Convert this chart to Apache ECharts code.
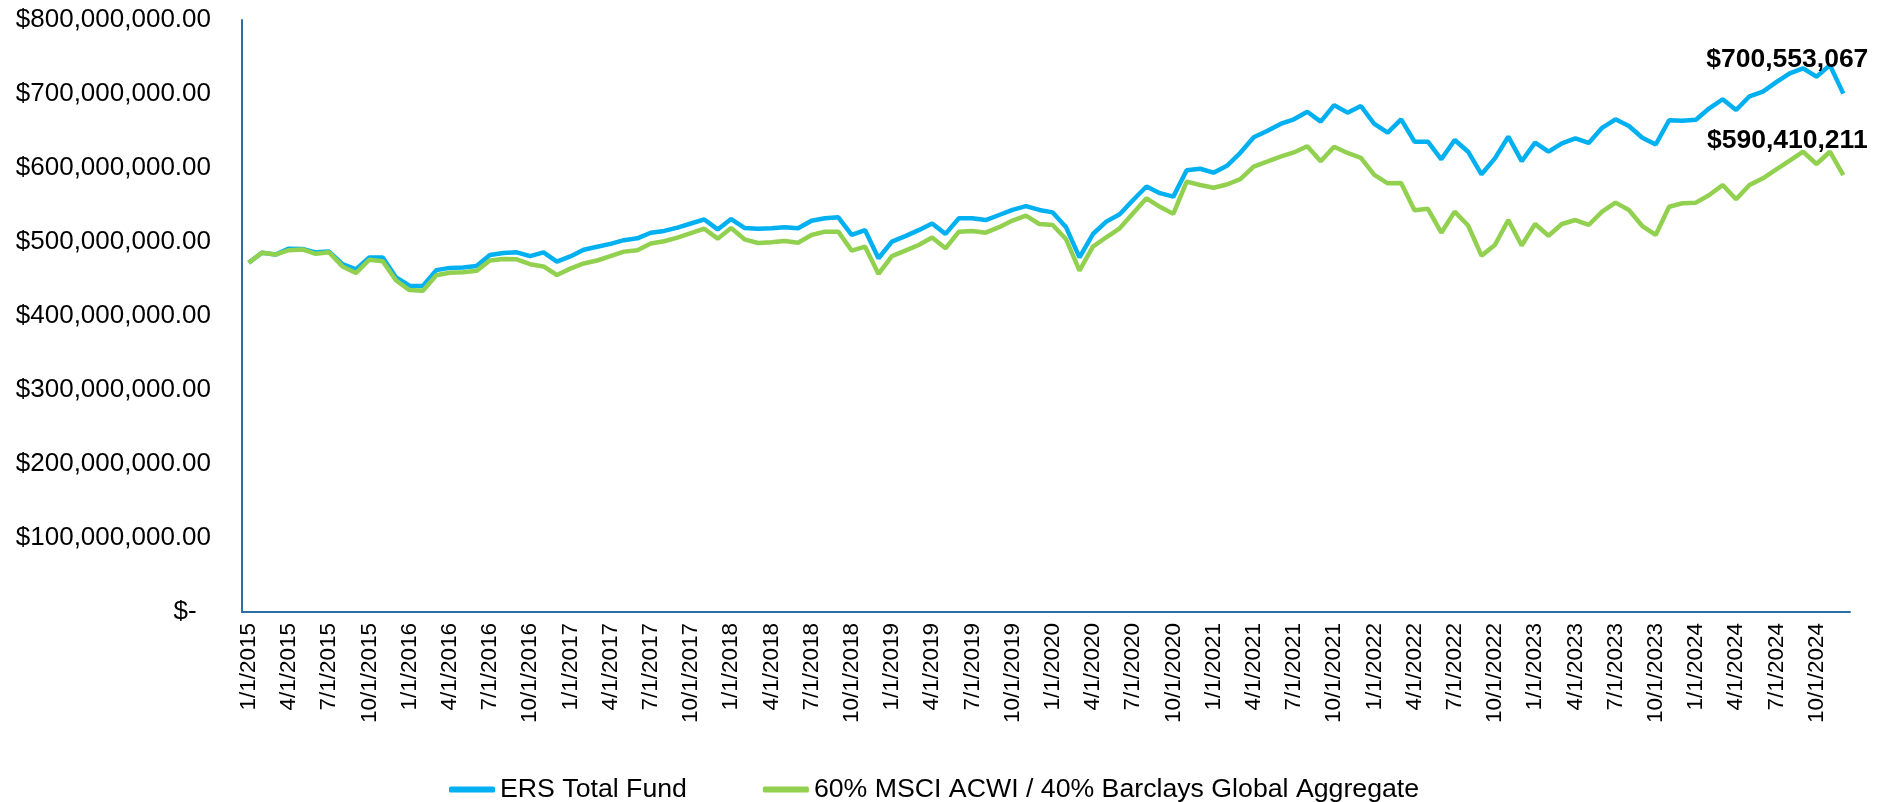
<!DOCTYPE html>
<html>
<head>
<meta charset="utf-8">
<title>ERS Total Fund</title>
<script src="https://cdn.jsdelivr.net/npm/echarts@6/dist/echarts.min.js"></script>
<style>
  html, body { margin: 0; padding: 0; background: #fff; }
  #main { width: 1890px; height: 802px; }
</style>
</head>
<body>
<div id="main"></div>
<script>
// month-end values in $ millions, 1/1/2015 .. 12/1/2024
var ersTotalFund = [
  472, 485.6, 483, 491, 490.5, 486, 487, 470, 463, 479, 479, 452,
  441, 440.5, 462, 465, 465.5, 467.5, 482.5, 485, 486, 481, 486, 473.4,
  480.5, 489.5, 493.5, 497.5, 502.5, 505, 512.5, 515, 519.5, 525, 530.5, 517,
  531, 519, 518, 518.5, 519.8, 518.5, 528.8, 532, 533.4, 509.5, 516, 478,
  500.5, 508, 516, 525, 511, 532, 532, 529.7, 536.5, 543.3, 548.6, 543.3,
  540, 519.8, 479.3, 510.8, 527.5, 537.5, 556.8, 575, 566, 561.3, 597, 599,
  593.7, 603, 620.5, 641.5, 650, 659.5, 665.8, 676, 662.6, 685, 674.8, 683.8,
  659.5, 647.8, 665.8, 635.6, 635.6, 611.7, 637.8, 622, 591.5, 613, 642.3, 609.2,
  634.3, 622, 633.4, 640, 633.8, 654.3, 665.8, 656.8, 640.8, 631.8, 664.5, 664,
  665.3, 680.7, 692.9, 678.4, 696.9, 703.2, 716, 728, 734.7, 723.4, 739, 700.553067
];
var benchmark6040 = [
  472, 485.6, 483, 489, 490, 484, 486, 467, 458, 476, 474, 448,
  435, 434, 455, 458.5, 459, 461, 475, 477, 476.6, 470, 467, 455.4,
  464, 471, 475, 481, 487, 489, 498, 501, 506, 512, 518, 504.5,
  519, 503.6, 498.7, 499.6, 501.4, 499, 509.5, 514, 514, 488.3, 493.7, 456.8,
  481, 488.3, 496, 506, 491.5, 514, 515, 512.6, 520, 529, 535.6, 524.3,
  523, 503.6, 461.3, 493.7, 506.4, 518.5, 538.8, 559, 547.5, 538, 581.5, 577,
  573.3, 577.7, 585, 602, 608.6, 615.3, 621, 629.3, 609, 628.8, 620.3, 613.8,
  590.6, 579.3, 579.8, 542.8, 544.8, 512.6, 541, 522.3, 481.6, 496, 529.7, 495.3,
  524.3, 508.4, 524.3, 529.7, 523, 541, 553.2, 543.3, 521.6, 509.5, 547.7, 552.3,
  553.2, 563.5, 577, 557.7, 577, 586, 598.2, 610, 622, 605.4, 622, 590.410211
];

var months = [];
for (var y = 2015; y <= 2024; y++) {
  for (var m = 1; m <= 12; m++) {
    months.push(m + "/1/" + y);
  }
}

function fmtDollar(v) {
  return "$" + Math.round(v).toLocaleString("en-US");
}

// only the last point carries a symbol + value label
function toSeriesData(arr, dy) {
  return arr.map(function (v, i) {
    var val = v * 1e6;
    if (i === arr.length - 1) {
      return {
        value: val,
        symbol: "circle",
        symbolSize: 0.1,
        label: {
          show: true,
          position: "top",
          distance: 0,
          offset: [-56, dy],
          formatter: function (p) { return fmtDollar(p.value); },
          color: "#000",
          fontWeight: "bold",
          fontSize: 26.5,
          fontFamily: "Arial, 'Liberation Sans', sans-serif",
        },
      };
    }
    return val;
  });
}

function init_echart_fund_line(container) {
  var chartDom = document.getElementById(container);
  var myChart = echarts.init(chartDom);
  var option;

  option = {
    animation: false,
    textStyle: { fontFamily: "Arial, 'Liberation Sans', sans-serif" },
    grid: {
      left: 242,
      right: 40,
      top: 20,
      bottom: 190,
      containLabel: false,
    },
    legend: {
      left: 444,
      top: 771,
      icon: "roundRect",
      itemWidth: 46,
      itemHeight: 6,
      itemGap: 76,
      textStyle: {
        color: "#000",
        fontSize: 26.7,
      },
      data: ["ERS Total Fund", "60% MSCI ACWI / 40% Barclays Global Aggregate"],
    },
    xAxis: {
      type: "category",
      boundaryGap: true,
      data: months,
      axisTick: { show: false },
      axisLine: {
        lineStyle: { color: "#2C6FA6", width: 2 },
      },
      axisLabel: {
        interval: 2,
        rotate: 90,
        margin: 11,
        color: "#000",
        fontSize: 22.5,
      },
      splitLine: { show: false },
    },
    yAxis: {
      type: "value",
      min: 0,
      max: 800000000,
      interval: 100000000,
      axisLine: {
        show: true,
        lineStyle: { color: "#2C6FA6", width: 2 },
      },
      axisTick: { show: false },
      splitLine: { show: false },
      axisLabel: {
        margin: 31,
        color: "#000",
        fontSize: 26,
        formatter: function (v) {
          if (v === 0) return "$-  ";
          return "$" + v.toLocaleString("en-US", { minimumFractionDigits: 2, maximumFractionDigits: 2 });
        },
      },
    },
    series: [
      {
        name: "ERS Total Fund",
        type: "line",
        data: toSeriesData(ersTotalFund, -20),
        symbol: "none",
        showSymbol: true,
        showAllSymbol: true,
        color: "#00B0F0",
        lineStyle: { width: 4.5, color: "#00B0F0" },
        emphasis: { disabled: true },
      },
      {
        name: "60% MSCI ACWI / 40% Barclays Global Aggregate",
        type: "line",
        data: toSeriesData(benchmark6040, -21),
        symbol: "none",
        showSymbol: true,
        showAllSymbol: true,
        color: "#92D050",
        lineStyle: { width: 4.5, color: "#92D050" },
        emphasis: { disabled: true },
      },
    ],
  };

  option && myChart.setOption(option);
  window.addEventListener("resize", function () {
    myChart.resize();
  });
}

init_echart_fund_line("main");
</script>
</body>
</html>
